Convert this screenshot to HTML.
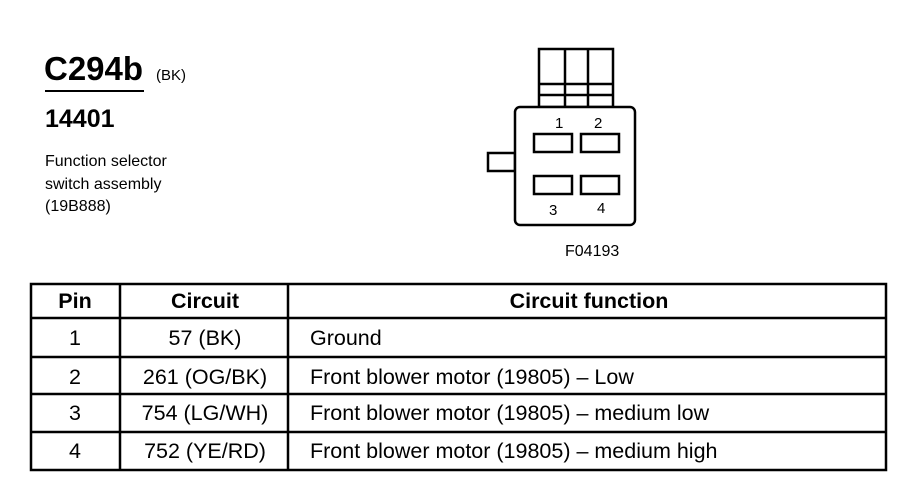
<!DOCTYPE html>
<html><head><meta charset="utf-8"><style>
body{margin:0;background:#fff;}
svg text{font-family:"Liberation Sans",Arial,sans-serif;fill:#000;}
</style></head><body>
<svg width="898" height="480" viewBox="0 0 898 480" xmlns="http://www.w3.org/2000/svg">
<text x="44" y="80" font-size="33" font-weight="bold">C294b</text>
<text x="156" y="80" font-size="15">(BK)</text>
<line x1="45" y1="91" x2="144" y2="91" stroke="#000" stroke-width="2"/>
<text x="45" y="127" font-size="25" font-weight="bold">14401</text>
<text x="45" y="166" font-size="16">Function selector</text>
<text x="45" y="189" font-size="16">switch assembly</text>
<text x="45" y="211" font-size="16">(19B888)</text>
<g fill="none" stroke="#000" stroke-width="2.5">
<rect x="539" y="49" width="74" height="58"/>
<line x1="565" y1="49" x2="565" y2="107"/>
<line x1="588" y1="49" x2="588" y2="107"/>
<line x1="539" y1="84" x2="613" y2="84"/>
<line x1="539" y1="95" x2="613" y2="95"/>
<rect x="488" y="153" width="27" height="18"/>
<rect x="515" y="107" width="120" height="118" rx="5" fill="#fff"/>
<rect x="534" y="134" width="38" height="18"/>
<rect x="581" y="134" width="38" height="18"/>
<rect x="534" y="176" width="38" height="18"/>
<rect x="581" y="176" width="38" height="18"/>
</g>
<text x="555" y="128" font-size="15">1</text>
<text x="594" y="128" font-size="15">2</text>
<text x="549" y="215" font-size="15">3</text>
<text x="597" y="213" font-size="15">4</text>
<text x="565" y="256" font-size="16">F04193</text>
<g stroke="#000" stroke-width="2.5" fill="none">
<rect x="31" y="284" width="855" height="186"/>
<line x1="31" y1="318" x2="886" y2="318"/>
<line x1="31" y1="357" x2="886" y2="357"/>
<line x1="31" y1="394" x2="886" y2="394"/>
<line x1="31" y1="432" x2="886" y2="432"/>
<line x1="120" y1="284" x2="120" y2="470"/>
<line x1="288" y1="284" x2="288" y2="470"/>
</g>
<g font-size="21.5" text-anchor="middle">
<text x="75" y="308" font-weight="bold">Pin</text>
<text x="205" y="308" font-weight="bold">Circuit</text>
<text x="589" y="308" font-weight="bold">Circuit function</text>
<text x="75" y="345">1</text><text x="205" y="345">57 (BK)</text>
<text x="75" y="384">2</text><text x="205" y="384">261 (OG/BK)</text>
<text x="75" y="420">3</text><text x="205" y="420">754 (LG/WH)</text>
<text x="75" y="458">4</text><text x="205" y="458">752 (YE/RD)</text>
</g>
<g font-size="21.5">
<text x="310" y="345">Ground</text>
<text x="310" y="384">Front blower motor (19805) – Low</text>
<text x="310" y="420">Front blower motor (19805) – medium low</text>
<text x="310" y="458">Front blower motor (19805) – medium high</text>
</g>
</svg>
</body></html>
